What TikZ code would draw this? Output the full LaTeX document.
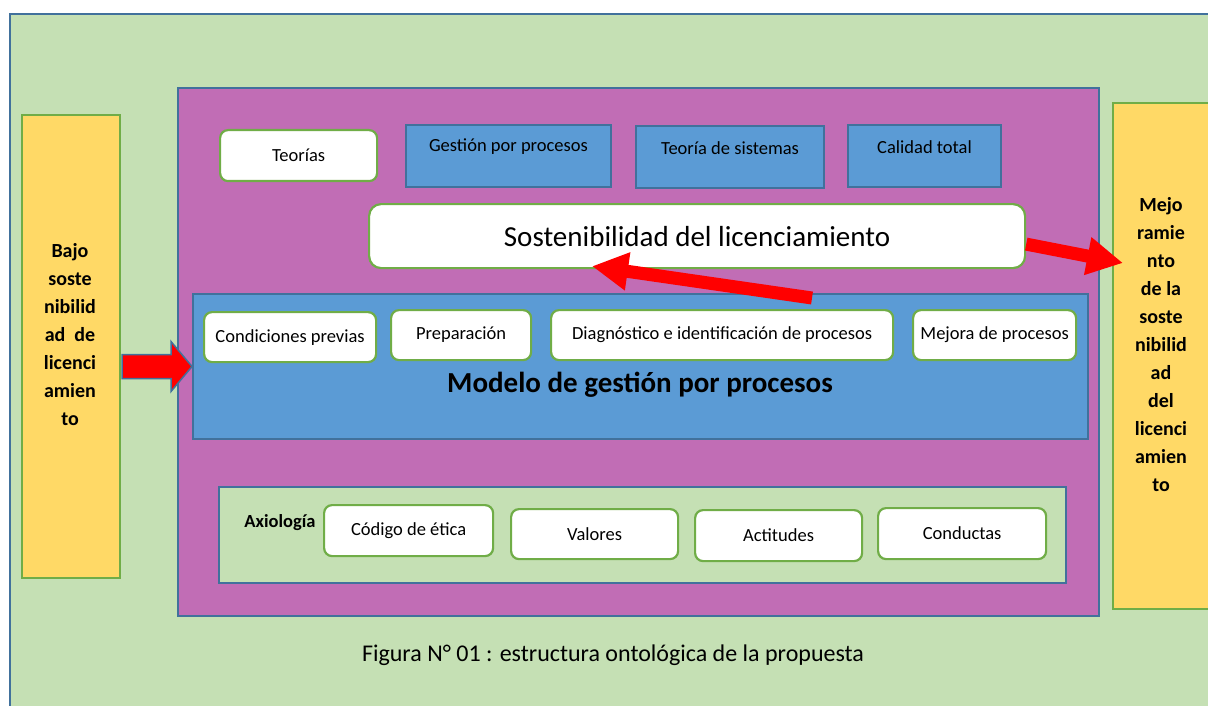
\documentclass[tikz,border=0pt]{standalone}
\usepackage{fontspec}
\setmainfont{Carlito}
\usetikzlibrary{calc,arrows.meta}
\definecolor{bordercol}{HTML}{41719C}
\definecolor{greenbg}{HTML}{C5E0B4}
\definecolor{purp}{HTML}{C16DB5}
\definecolor{bluef}{HTML}{5B9BD5}
\definecolor{yell}{HTML}{FFD966}
\definecolor{greenline}{HTML}{70AD47}
\definecolor{redarrow}{HTML}{FF0000}
\tikzset{
  frame/.style={draw=bordercol, line width=2pt, inner sep=0pt, anchor=north west},
  wbox/.style={draw=greenline, fill=white, rounded corners=8pt, line width=2.2pt, inner sep=0pt, anchor=north west, font=\fontsize{18.5}{22}\selectfont},
  bbox/.style={draw=bordercol, fill=bluef, line width=2pt, inner sep=0pt, anchor=north west},
  ybox/.style={draw=greenline, fill=yell, line width=2pt, inner sep=0pt, anchor=north west},
  btext/.style={font=\fontsize{18.5}{22}\selectfont, inner sep=0pt},
  ytext/.style={font=\bfseries\fontsize{20}{28}\selectfont, align=center, inner sep=0pt},
  redline/.style={draw=redarrow, line width=13pt, -{Triangle[length=36pt,width=36pt]}}
}
\begin{document}
\begin{tikzpicture}[x=1pt,y=-1pt]
\useasboundingbox (0,0) rectangle (1208,706);
\fill[white] (0,0) rectangle (1208,706);
% outer frame
\node[frame, fill=greenbg, minimum width=1212pt, minimum height=704pt] (outer) at (9,13) {};
% side boxes
\node[ybox, minimum width=98pt, minimum height=463pt] (bajo) at (21,114) {};
\node[ytext] (bajot) at (70,335) {Bajo\\soste\\nibilid\\ad\ \ de\\licenci\\amien\\to};
\node[ybox, minimum width=110pt, minimum height=506pt] (mejo) at (1112,102) {};
\node[ytext] (mejot) at (1161,345) {Mejo\\ramie\\nto\\de la\\soste\\nibilid\\ad\\del\\licenci\\amien\\to};
% purple container
\node[frame, fill=purp, minimum width=921pt, minimum height=528pt] (purple) at (177,87) {};
% top row
\node[wbox, minimum width=157pt, minimum height=51pt] (teorias) at (219,129) {Teorías};
\node[bbox, minimum width=205pt, minimum height=62pt] (gp) at (405,124) {};
\node[btext] (gpt) at ($(gp.north)+(0,23)$) {Gestión por procesos};
\node[bbox, minimum width=188pt, minimum height=62pt] (ts) at (635,125) {};
\node[btext] (tst) at ($(ts.north)+(0,23)$) {Teoría de sistemas};
\node[bbox, minimum width=153pt, minimum height=62pt] (ct) at (847,124) {};
\node[btext] (ctt) at ($(ct.north)+(0,23)$) {Calidad total};
% sostenibilidad
\node[wbox, rounded corners=12pt, minimum width=656pt, minimum height=64pt, font=\fontsize{29}{34}\selectfont] (sost) at (368,203) {Sostenibilidad del licenciamiento};
% model
\node[bbox, minimum width=895pt, minimum height=145pt] (modelo) at (192,293) {};
\node[wbox, minimum width=172pt, minimum height=50pt] (cond) at (203,311) {Condiciones previas};
\node[wbox, minimum width=140pt, minimum height=50pt] (prep) at (390,309) {Preparación};
\node[wbox, minimum width=342pt, minimum height=50pt] (diag) at (550,309) {Diagnóstico e identificación de procesos};
\node[wbox, minimum width=163pt, minimum height=50pt] (mejora) at (912,309) {Mejora de procesos};
\node[font=\bfseries\fontsize{29}{34}\selectfont, inner sep=0pt] (modelot) at (640,385) {Modelo de gestión por procesos};
% axiologia
\node[frame, fill=greenbg, minimum width=847pt, minimum height=96pt] (axio) at (218,486) {};
\node[font=\bfseries\fontsize{18.5}{22}\selectfont, inner sep=0pt] (axiot) at (280,523) {Axiología};
\node[wbox, minimum width=169pt, minimum height=51pt] (codigo) at (323,504) {Código de ética};
\node[wbox, minimum width=167pt, minimum height=50pt] (valores) at (510,508) {Valores};
\node[wbox, minimum width=167pt, minimum height=51pt] (actitudes) at (694,509) {Actitudes};
\node[wbox, minimum width=168pt, minimum height=51pt] (conductas) at (877,507) {Conductas};
% caption
\node[font=\fontsize{24}{28}\selectfont, inner sep=0pt] (caption) at (613,655) {Figura N° 01 : estructura ontológica de la propuesta};
% arrows
\filldraw[fill=redarrow, draw=bordercol, line width=1.5pt, line join=miter]
  ($(bajo.east |- modelo.west)+(1,-12)$) -- ++(49,0) -- ++(0,-13) -- (modelo.west)
  -- ($(bajo.east |- modelo.west)+(50,25)$) -- ++(0,-13) -- ++(-49,0) -- cycle;
\draw[redline] ($(modelo.north west)+(620,5)$) -- ($(sost.south west)+(224,-3)$);
\draw[redline] ($(sost.east)+(0,8)$) -- ($(mejo.north west)+(11,161)$);
\end{tikzpicture}
\end{document}
